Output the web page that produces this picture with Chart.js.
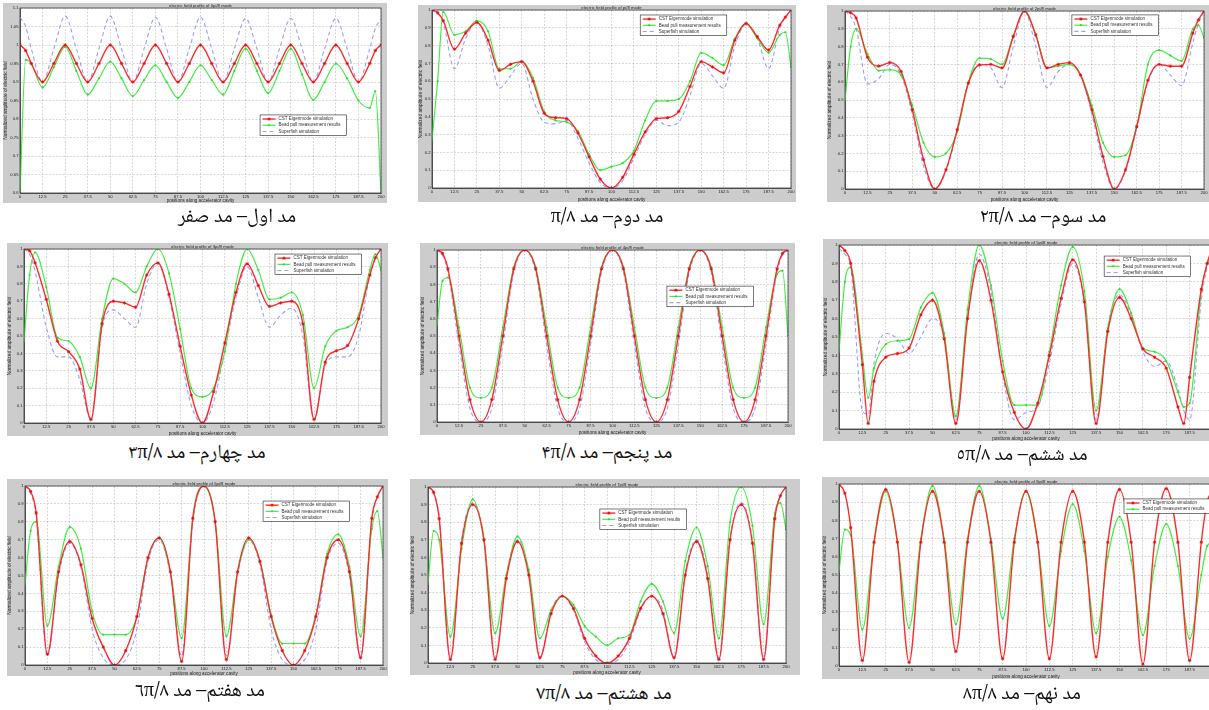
<!DOCTYPE html>
<html>
<head>
<meta charset="utf-8">
<script src="https://cdn.jsdelivr.net/npm/chart.js@4.4.1/dist/chart.umd.min.js"></script>
<style>
  body { margin: 0; width: 1209px; height: 710px; overflow: hidden; background: #fff; position: relative; }
  canvas { position: absolute; background: #cccccc; }
  .caption { position: absolute; transform: translateX(-50%); white-space: nowrap; direction: rtl;
             font-family: "Noto Naskh Arabic", "Noto Sans Arabic", "Liberation Serif", "DejaVu Sans", serif;
             font-size: 20px; line-height: 24px; height: 24px; color: #111; }
</style>
</head>
<body>
<script>
// sample positions along the cavity (shared by most panels)
const positions = [0, 3.125, 6.25, 12.5, 18.75, 25, 31.25, 37.5, 43.75, 50, 56.25, 62.5, 68.75, 75, 81.25, 87.5, 93.75, 100, 106.25, 112.5, 118.75, 125, 131.25, 137.5, 143.75, 150, 156.25, 162.5, 168.75, 175, 181.25, 187.5, 193.75, 196.875, 200];
// 5pi/8 panel has its zeros off the regular grid
const positions5 = [0, 3.125, 6.25, 12.5, 15.625, 18.75, 25, 31.25, 37.5, 43.75, 50, 56.25, 62.5, 68.75, 75, 81.25, 87.5, 93.75, 100, 106.25, 112.5, 118.75, 125, 131.25, 137.5, 143.75, 150, 156.25, 162.5, 168.75, 175, 181.25, 184.375, 187.5, 193.75, 196.875, 200];

const xTickValues = [0, 12.5, 25, 37.5, 50, 62.5, 75, 87.5, 100, 112.5, 125, 137.5, 150, 162.5, 175, 187.5, 200];
const yTicksZero = [0.6, 0.65, 0.7, 0.75, 0.8, 0.85, 0.9, 0.95, 1, 1.05, 1.1];
const yTicksUnit = [0, 0.1, 0.2, 0.3, 0.4, 0.5, 0.6, 0.7, 0.8, 0.9, 1];

const seriesNames = ["CST Eigenmode simulation", "Bead pull measurement results", "Superfish simulation"];
const xTitle = "positions along accelerator cavity";
const yTitle = "Normalized amplitude of electric field";
const titles = ["electric field profile of 0pi/8 mode", "electric field profile of pi/8 mode", "electric field profile of 2pi/8 mode",
  "electric field profile of 3pi/8 mode", "electric field profile of 4pi/8 mode", "electric field profile of 5pi/8 mode",
  "electric field profile of 6pi/8 mode", "electric field profile of 7pi/8 mode", "electric field profile of 8pi/8 mode"];
const captions = ["مد اول– مد صفر", "مد دوم– مد π/۸", "مد سوم– مد ۲π/۸",
  "مد چهارم– مد ۳π/۸", "مد پنجم– مد ۴π/۸", "مد ششم– مد ٥π/۸",
  "مد هفتم– مد ٦π/۸", "مد هشتم– مد ۷π/۸", "مد نهم– مد ۸π/۸"];

// mode 0
const cst0 = [1.0, 0.985, 0.95, 0.9, 0.95, 1.0, 0.95, 0.9, 0.95, 1.0, 0.95, 0.9, 0.95, 1.0, 0.95, 0.9, 0.95, 1.0, 0.95, 0.9, 0.95, 1.0, 0.95, 0.9, 0.95, 1.0, 0.95, 0.9, 0.95, 1.0, 0.95, 0.9, 0.95, 0.985, 1.0];
const bead0 = [0.6, 0.96, 0.95, 0.885, 0.94, 0.995, 0.93, 0.866, 0.91, 0.955, 0.91, 0.862, 0.905, 0.945, 0.9, 0.857, 0.9, 0.945, 0.905, 0.866, 0.93, 0.99, 0.93, 0.87, 0.93, 0.99, 0.92, 0.852, 0.9, 0.95, 0.91, 0.85, 0.83, 0.875, 0.6];
const sf0 = [1.075, 1.05, 0.99, 0.9, 0.99, 1.078, 0.99, 0.9, 0.99, 1.078, 0.99, 0.9, 0.99, 1.075, 0.99, 0.9, 0.99, 1.075, 0.99, 0.9, 0.99, 1.072, 0.99, 0.9, 0.99, 1.072, 0.99, 0.9, 0.99, 1.072, 0.99, 0.9, 0.99, 1.045, 1.07];
// pi/8
const cst1 = [1.0, 0.985, 0.94, 0.78, 0.87, 0.93, 0.83, 0.66, 0.695, 0.71, 0.6, 0.42, 0.395, 0.39, 0.31, 0.175, 0.05, 0.0, 0.06, 0.19, 0.315, 0.39, 0.395, 0.43, 0.57, 0.71, 0.68, 0.647, 0.83, 0.925, 0.85, 0.775, 0.915, 0.96, 1.0];
const bead1 = [0.27, 0.6, 0.99, 0.86, 0.88, 0.94, 0.88, 0.67, 0.67, 0.71, 0.62, 0.43, 0.38, 0.37, 0.32, 0.19, 0.1, 0.12, 0.14, 0.21, 0.38, 0.49, 0.49, 0.5, 0.6, 0.76, 0.73, 0.69, 0.84, 0.92, 0.84, 0.76, 0.86, 0.875, 0.68];
const sf1 = [1.0, 0.98, 0.93, 0.67, 0.84, 0.93, 0.8, 0.56, 0.63, 0.7, 0.5, 0.37, 0.36, 0.38, 0.28, 0.14, 0.03, 0.0, 0.04, 0.17, 0.3, 0.38, 0.35, 0.37, 0.52, 0.7, 0.63, 0.56, 0.8, 0.92, 0.84, 0.67, 0.9, 0.96, 1.0];
// 2pi/8
const cst2 = [1.0, 0.99, 0.96, 0.74, 0.69, 0.71, 0.66, 0.445, 0.165, 0.0, 0.108, 0.333, 0.595, 0.697, 0.7, 0.68, 0.856, 1.0, 0.865, 0.68, 0.7, 0.71, 0.64, 0.445, 0.183, 0.0, 0.108, 0.35, 0.61, 0.7, 0.69, 0.69, 0.875, 0.95, 1.0];
const bead2 = [0.5, 0.8, 0.9, 0.76, 0.665, 0.67, 0.64, 0.47, 0.26, 0.18, 0.2, 0.32, 0.6, 0.735, 0.73, 0.7, 0.86, 1.0, 0.87, 0.68, 0.69, 0.7, 0.64, 0.47, 0.26, 0.18, 0.19, 0.35, 0.7, 0.78, 0.75, 0.72, 0.9, 0.92, 0.85];
const sf2 = [1.0, 0.97, 0.9, 0.59, 0.62, 0.7, 0.64, 0.42, 0.13, 0.0, 0.1, 0.33, 0.6, 0.7, 0.68, 0.57, 0.8, 1.0, 0.8, 0.57, 0.66, 0.7, 0.64, 0.42, 0.15, 0.0, 0.1, 0.34, 0.6, 0.7, 0.64, 0.58, 0.82, 0.93, 1.0];
// 3pi/8
const cst3 = [1.0, 0.99, 0.92, 0.71, 0.47, 0.41, 0.31, 0.02, 0.57, 0.7, 0.69, 0.665, 0.85, 0.92, 0.74, 0.44, 0.16, 0.0, 0.18, 0.46, 0.75, 0.915, 0.79, 0.67, 0.69, 0.7, 0.57, 0.02, 0.35, 0.415, 0.445, 0.6, 0.85, 0.95, 1.0];
const bead3 = [0.47, 0.85, 0.98, 0.78, 0.49, 0.47, 0.38, 0.2, 0.6, 0.83, 0.8, 0.75, 0.9, 1.0, 0.86, 0.54, 0.2, 0.15, 0.2, 0.41, 0.8, 1.0, 0.88, 0.71, 0.72, 0.75, 0.62, 0.2, 0.44, 0.53, 0.55, 0.62, 0.88, 0.97, 0.88];
const sf3 = [1.0, 0.97, 0.87, 0.55, 0.38, 0.38, 0.25, 0.02, 0.55, 0.65, 0.6, 0.55, 0.8, 0.92, 0.72, 0.4, 0.1, 0.0, 0.12, 0.42, 0.72, 0.9, 0.72, 0.55, 0.62, 0.66, 0.5, 0.02, 0.33, 0.38, 0.38, 0.5, 0.85, 0.95, 1.0];
// 4pi/8
const cst4 = [1.0, 0.98, 0.89, 0.5, 0.13, 0.0, 0.13, 0.5, 0.89, 1.0, 0.89, 0.5, 0.13, 0.0, 0.13, 0.5, 0.89, 1.0, 0.89, 0.5, 0.13, 0.0, 0.13, 0.5, 0.89, 1.0, 0.89, 0.5, 0.13, 0.0, 0.13, 0.5, 0.89, 0.98, 1.0];
const bead4 = [0.56, 0.82, 0.84, 0.55, 0.2, 0.14, 0.2, 0.55, 0.9, 1.0, 0.9, 0.55, 0.2, 0.14, 0.2, 0.55, 0.9, 1.0, 0.9, 0.55, 0.2, 0.14, 0.2, 0.55, 0.9, 1.0, 0.9, 0.55, 0.2, 0.14, 0.2, 0.55, 0.86, 0.88, 0.5];
const sf4 = [1.0, 0.97, 0.87, 0.45, 0.08, 0.0, 0.08, 0.45, 0.87, 1.0, 0.87, 0.45, 0.08, 0.0, 0.08, 0.45, 0.87, 1.0, 0.87, 0.45, 0.08, 0.0, 0.08, 0.45, 0.87, 1.0, 0.87, 0.45, 0.08, 0.0, 0.08, 0.45, 0.87, 0.97, 1.0];
// 5pi/8 (uses positions5)
const cst5 = [1.0, 0.97, 0.9, 0.35, 0.03, 0.26, 0.39, 0.41, 0.44, 0.62, 0.7, 0.49, 0.03, 0.6, 0.915, 0.7, 0.31, 0.09, 0.0, 0.14, 0.4, 0.71, 0.92, 0.69, 0.03, 0.53, 0.715, 0.6, 0.435, 0.39, 0.33, 0.12, 0.03, 0.28, 0.76, 0.9, 1.0];
const bead5 = [0.42, 0.8, 0.88, 0.4, 0.17, 0.33, 0.46, 0.48, 0.49, 0.66, 0.74, 0.52, 0.07, 0.65, 1.0, 0.78, 0.37, 0.13, 0.13, 0.13, 0.42, 0.78, 0.99, 0.75, 0.1, 0.55, 0.76, 0.63, 0.44, 0.42, 0.37, 0.2, 0.12, 0.14, 0.75, 0.9, 0.97];
const sf5 = [0.98, 0.95, 0.88, 0.1, 0.08, 0.36, 0.52, 0.49, 0.41, 0.5, 0.6, 0.5, 0.05, 0.6, 0.95, 0.75, 0.3, 0.05, 0.09, 0.12, 0.36, 0.68, 0.9, 0.68, 0.05, 0.56, 0.73, 0.62, 0.42, 0.34, 0.37, 0.22, 0.1, 0.05, 0.7, 0.88, 1.0];
// 6pi/8
const cst6 = [1.0, 0.97, 0.85, 0.06, 0.52, 0.69, 0.56, 0.26, 0.1, 0.0, 0.08, 0.27, 0.6, 0.71, 0.52, 0.02, 0.82, 1.0, 0.8, 0.03, 0.52, 0.71, 0.58, 0.27, 0.08, 0.0, 0.08, 0.27, 0.6, 0.7, 0.52, 0.04, 0.82, 0.94, 1.0];
const bead6 = [0.45, 0.75, 0.8, 0.22, 0.55, 0.77, 0.65, 0.3, 0.17, 0.17, 0.17, 0.27, 0.6, 0.71, 0.52, 0.15, 0.82, 1.0, 0.8, 0.16, 0.52, 0.7, 0.58, 0.28, 0.12, 0.12, 0.12, 0.28, 0.62, 0.73, 0.55, 0.16, 0.76, 0.86, 0.6];
const sf6 = [1.0, 0.96, 0.83, 0.05, 0.5, 0.68, 0.55, 0.2, 0.04, 0.0, 0.03, 0.2, 0.58, 0.7, 0.5, 0.05, 0.8, 1.0, 0.8, 0.05, 0.5, 0.7, 0.56, 0.2, 0.03, 0.0, 0.03, 0.2, 0.58, 0.68, 0.5, 0.05, 0.8, 0.94, 1.0];
// 7pi/8
const cst7 = [1.0, 0.97, 0.82, 0.02, 0.68, 0.9, 0.7, 0.02, 0.48, 0.69, 0.5, 0.03, 0.28, 0.38, 0.31, 0.14, 0.04, 0.0, 0.04, 0.14, 0.31, 0.38, 0.28, 0.03, 0.5, 0.69, 0.48, 0.02, 0.7, 0.9, 0.68, 0.02, 0.82, 0.95, 1.0];
const bead7 = [0.45, 0.75, 0.7, 0.15, 0.65, 0.93, 0.7, 0.17, 0.5, 0.72, 0.53, 0.14, 0.3, 0.38, 0.33, 0.21, 0.15, 0.1, 0.14, 0.16, 0.35, 0.45, 0.35, 0.17, 0.58, 0.77, 0.55, 0.14, 0.8, 1.0, 0.78, 0.22, 0.85, 0.91, 0.76];
const sf7 = [1.0, 0.97, 0.83, 0.03, 0.7, 0.91, 0.71, 0.03, 0.5, 0.7, 0.52, 0.03, 0.3, 0.38, 0.3, 0.12, 0.02, 0.0, 0.02, 0.12, 0.3, 0.38, 0.3, 0.03, 0.52, 0.7, 0.5, 0.03, 0.71, 0.91, 0.7, 0.03, 0.83, 0.95, 1.0];
// 8pi/8 (no Superfish curve)
const cst8 = [1.0, 0.95, 0.76, 0.03, 0.68, 0.97, 0.68, 0.02, 0.68, 0.96, 0.68, 0.08, 0.68, 0.96, 0.68, 0.04, 0.68, 0.96, 0.68, 0.04, 0.68, 0.96, 0.68, 0.05, 0.68, 0.97, 0.68, 0.01, 0.68, 0.975, 0.68, 0.03, 0.68, 0.9, 0.97];
const bead8 = [0.52, 0.75, 0.72, 0.2, 0.68, 0.96, 0.68, 0.21, 0.7, 0.99, 0.7, 0.23, 0.7, 0.99, 0.7, 0.26, 0.7, 0.96, 0.68, 0.22, 0.63, 0.89, 0.63, 0.18, 0.6, 0.82, 0.58, 0.17, 0.55, 0.78, 0.55, 0.15, 0.5, 0.66, 0.68];

// page layout: frame = [left, top, width, height], plot = [left, top, right, bottom]
const panels = [
  { frame: [3, 3, 384, 200],     plot: [20, 8, 381, 193],      xs: positions,  y: yTicksZero, series: [cst0, bead0, sf0], legendAt: [0.665, 0.578], cap: [237, 218] },
  { frame: [418, 5, 378, 197],   plot: [432, 10, 791, 188],    xs: positions,  y: yTicksUnit, series: [cst1, bead1, sf1], legendAt: [0.58, 0.028],  cap: [607, 218] },
  { frame: [827, 5, 382, 197],   plot: [845, 11, 1204, 189],   xs: positions,  y: yTicksUnit, series: [cst2, bead2, sf2], legendAt: [0.632, 0.022], cap: [1043, 218] },
  { frame: [7, 243, 381, 193],   plot: [24, 249, 381, 423],    xs: positions,  y: yTicksUnit, series: [cst3, bead3, sf3], legendAt: [0.703, 0.029], cap: [197, 454] },
  { frame: [420, 243, 375, 192], plot: [437, 250, 788, 422],   xs: positions,  y: yTicksUnit, series: [cst4, bead4, sf4], legendAt: [0.655, 0.21],  cap: [607, 454] },
  { frame: [823, 239, 400, 202], plot: [839, 245, 1213, 429],  xs: positions5, y: yTicksUnit, series: [cst5, bead5, sf5], legendAt: [0.709, 0.06],  cap: [1022, 456] },
  { frame: [7, 479, 381, 197],   plot: [25, 486, 383, 665],    xs: positions,  y: yTicksUnit, series: [cst6, bead6, sf6], legendAt: [0.665, 0.084], cap: [200, 692] },
  { frame: [410, 479, 390, 196], plot: [428, 487, 786, 663],   xs: positions,  y: yTicksUnit, series: [cst7, bead7, sf7], legendAt: [0.48, 0.125],  cap: [604, 695] },
  { frame: [822, 477, 400, 202], plot: [839, 484, 1213, 666],  xs: positions,  y: yTicksUnit, series: [cst8, bead8],      legendAt: [0.762, 0.082], cap: [1022, 695] }
];

const lineStyles = [
  { borderColor: '#ff2b2b', borderWidth: 1.4, pointStyle: 'star', pointRadius: 1.7, pointBorderWidth: 0.8, pointBorderColor: '#e01010', pointBackgroundColor: '#e01010' },
  { borderColor: '#46ec46', borderWidth: 1.2, pointStyle: 'rect', pointRadius: 0.9, pointBorderWidth: 0.6, pointBorderColor: '#33d633', pointBackgroundColor: '#33d633' },
  { borderColor: '#9c9cff', borderWidth: 1.1, borderDash: [4, 3], pointRadius: 0 }
];

Chart.defaults.font.family = '"Liberation Sans", Arial, sans-serif';
Chart.defaults.color = '#222';

const fmt = v => String(Math.round(v * 100) / 100);

const matlabFrame = {
  id: 'matlabFrame',
  beforeDraw(chart) {
    const a = chart.chartArea, ctx = chart.ctx;
    ctx.save();
    ctx.fillStyle = '#ffffff';
    ctx.fillRect(a.left, a.top, a.width, a.height);
    ctx.restore();
  },
  afterDraw(chart, args, opts) {
    const a = chart.chartArea, ctx = chart.ctx;
    ctx.save();
    ctx.strokeStyle = '#3a3a3a';
    ctx.lineWidth = 0.8;
    ctx.strokeRect(a.left, a.top, a.width, a.height);

    ctx.fillStyle = '#222';
    ctx.font = '4.3px "Liberation Sans", Arial, sans-serif';
    ctx.textAlign = 'center';
    ctx.textBaseline = 'bottom';
    ctx.fillText(opts.title, (a.left + a.right) / 2, a.top - 0.5);

    // legend box inside the axes
    const sets = chart.data.datasets;
    ctx.font = '4.5px "Liberation Sans", Arial, sans-serif';
    const tw = Math.max(...sets.map(d => ctx.measureText(d.label).width));
    const rowH = 6.2, sample = 13, pad = 2.5;
    const w = pad + sample + 3 + tw + 6, h = sets.length * rowH + 2;
    const x0 = a.left + opts.legendAt[0] * a.width, y0 = a.top + opts.legendAt[1] * a.height;
    ctx.fillStyle = '#fff';
    ctx.fillRect(x0, y0, w, h);
    ctx.strokeStyle = '#222';
    ctx.lineWidth = 0.6;
    ctx.strokeRect(x0, y0, w, h);
    sets.forEach((d, k) => {
      const cy = y0 + 1 + rowH * (k + 0.5);
      ctx.strokeStyle = d.borderColor;
      ctx.lineWidth = d.borderWidth;
      ctx.setLineDash(d.borderDash || []);
      ctx.beginPath();
      ctx.moveTo(x0 + pad, cy);
      ctx.lineTo(x0 + pad + sample, cy);
      ctx.stroke();
      ctx.setLineDash([]);
      if (d.pointRadius > 0 && Chart.helpers && Chart.helpers.drawPoint) {
        ctx.strokeStyle = d.pointBorderColor;
        ctx.fillStyle = d.pointBackgroundColor;
        ctx.lineWidth = d.pointBorderWidth;
        Chart.helpers.drawPoint(ctx, { pointStyle: d.pointStyle, radius: d.pointRadius, borderWidth: d.pointBorderWidth, rotation: 0 }, x0 + pad + sample / 2, cy);
      }
      ctx.fillStyle = '#333';
      ctx.textAlign = 'left';
      ctx.textBaseline = 'middle';
      ctx.fillText(d.label, x0 + pad + sample + 3, cy);
    });
    ctx.restore();
  }
};

function makePanel(p, i) {
  const [fx, fy, fw, fh] = p.frame;
  const [pl, pt, pr, pb] = p.plot;
  const cv = document.createElement('canvas');
  cv.width = fw;
  cv.height = fh;
  cv.style.left = fx + 'px';
  cv.style.top = fy + 'px';
  cv.style.width = fw + 'px';
  cv.style.height = fh + 'px';
  document.body.appendChild(cv);

  const datasets = p.series.map((vals, k) => Object.assign({
    label: seriesNames[k],
    data: p.xs.map((x, j) => ({ x: x, y: vals[j] })),
    cubicInterpolationMode: 'monotone',
    fill: false,
    order: k
  }, lineStyles[k]));

  new Chart(cv, {
    type: 'line',
    data: { datasets: datasets },
    options: {
      responsive: false,
      animation: false,
      events: [],
      layout: { padding: { left: 0, top: pt - fy, right: fx + fw - pr, bottom: 0 } },
      plugins: {
        legend: { display: false },
        tooltip: { enabled: false },
        matlabFrame: { title: titles[i], legendAt: p.legendAt }
      },
      scales: {
        x: {
          type: 'linear', min: 0, max: 200,
          afterFit: s => { s.height = fy + fh - pb; },
          afterBuildTicks: s => { s.ticks = xTickValues.map(v => ({ value: v })); },
          ticks: { font: { size: 4.2 }, padding: 1.5, maxRotation: 0, autoSkip: false, callback: v => fmt(v) },
          grid: { color: 'rgba(0,0,0,0.22)', lineWidth: 0.7, drawTicks: false },
          border: { color: '#3a3a3a', width: 0.8, dash: [2, 1.5] },
          title: { display: true, text: xTitle, font: { size: 4.6 }, padding: 0 }
        },
        y: {
          type: 'linear', min: p.y[0], max: p.y[p.y.length - 1],
          afterFit: s => { s.width = pl - fx; },
          afterBuildTicks: s => { s.ticks = p.y.map(v => ({ value: v })); },
          ticks: { font: { size: 4.2 }, padding: 1.5, autoSkip: false, callback: v => fmt(v) },
          grid: { color: 'rgba(0,0,0,0.22)', lineWidth: 0.7, drawTicks: false },
          border: { color: '#3a3a3a', width: 0.8, dash: [2, 1.5] },
          title: { display: true, text: yTitle, font: { size: 4.8 }, padding: 0 }
        }
      }
    },
    plugins: [matlabFrame]
  });

  const cap = document.createElement('div');
  cap.className = 'caption';
  cap.textContent = captions[i];
  cap.style.left = p.cap[0] + 'px';
  cap.style.top = (p.cap[1] - 12) + 'px';
  document.body.appendChild(cap);
}

panels.forEach(makePanel);
</script>
</body>
</html>
